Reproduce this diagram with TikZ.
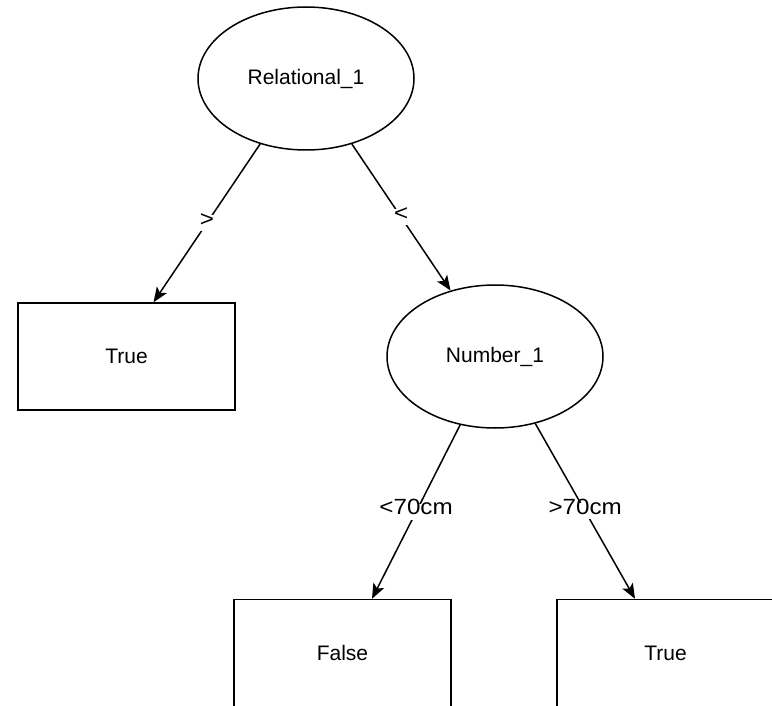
\documentclass[tikz,border=0pt]{standalone}
\usepackage{fontspec}
\setmainfont{Liberation Sans}
\newfontfamily\edgefont{Liberation Sans}[FakeStretch=1.1]
\usetikzlibrary{shapes.geometric,arrows.meta}

\tikzset{
  decision/.style={ellipse, draw, line width=1.5pt, minimum width=216pt,
    minimum height=143pt, inner sep=0pt, font=\fontsize{21}{25}\selectfont},
  leaf/.style={rectangle, draw, line width=1.5pt, minimum width=217pt,
    minimum height=107pt, inner sep=0pt, font=\fontsize{21}{25}\selectfont},
  branch/.style={line width=1.5pt, -{Stealth[length=15pt,width=12pt,inset=3.5pt]}},
  cond/.style={fill=white, inner xsep=2pt, inner ysep=2pt, text height=0.9em,
    text depth=0.3em, font=\edgefont\fontsize{22}{26}\selectfont}
}

\begin{document}
\begin{tikzpicture}[x=1pt,y=-1pt]
  \clip (0,0) rectangle (772,706);
  \fill[white] (0,0) rectangle (772,706);

  % tree nodes
  \node[decision] (rel) at (306,78.5) {Relational\_1};
  \node[leaf] (tl) at (126.5,356.5) {True};
  \node[decision] (num) at (495,356.5) {Number\_1};
  \node[leaf] (fb) at (342.5,653) {False};
  \node[leaf] (tb) at (665.5,653) {True};

  % branches with their conditions
  \draw[branch] (rel.235) -- node[cond] {>} ([xshift=27pt]tl.north);
  \draw[branch] (rel.305) -- node[cond] {<} (num.124);
  \draw[branch] (num.243) -- node[cond] {<70cm} ([xshift=29.5pt]fb.north);
  \draw[branch] (num.301) -- node[cond] {>70cm} ([xshift=-30.5pt]tb.north);
\end{tikzpicture}
\end{document}
